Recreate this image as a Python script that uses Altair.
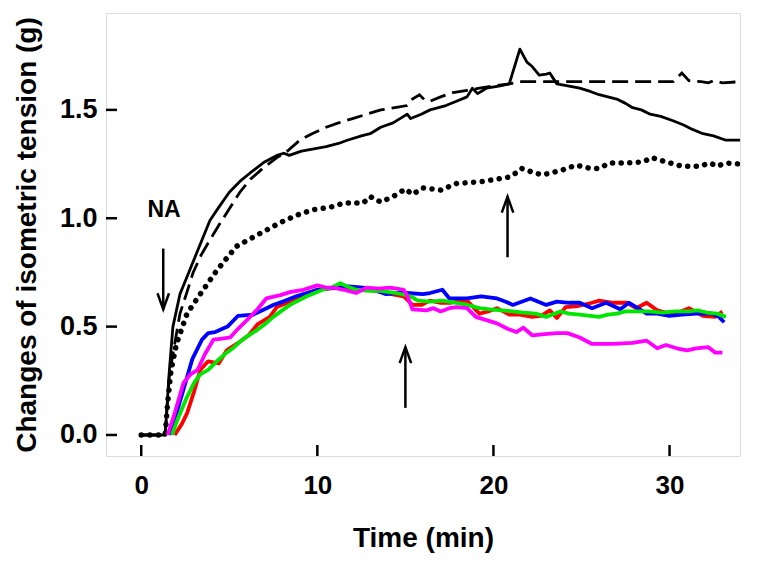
import altair as alt
import pandas as pd

# ---------------- data ----------------
solid_t = [0, 1.36, 1.6, 1.8, 2.2, 2.7, 3.2, 3.9, 4.4, 5.0, 5.6, 6.2, 7.0, 7.7, 8.1, 8.4, 9.1, 9.8, 10.5,
           11.2, 11.7, 12.5, 13.0, 13.6, 14.3, 14.9, 15.1, 15.3, 15.9, 16.4, 17.3, 17.9, 18.5, 18.8, 19.1,
           19.6, 20.3, 20.9, 21.5, 21.9, 22.2, 22.6, 23.0, 23.2, 23.6, 24.3, 24.9, 25.5, 26.0, 26.5, 27.0,
           27.5, 27.9, 28.4, 28.9, 29.5, 30.2, 30.8, 31.3, 31.9, 32.5, 33.2, 34.0]
solid_v = [0, 0, 0.30, 0.50, 0.65, 0.75, 0.85, 0.99, 1.05, 1.12, 1.17, 1.21, 1.26, 1.29, 1.30, 1.29, 1.31, 1.32, 1.33,
           1.345, 1.36, 1.38, 1.39, 1.42, 1.44, 1.47, 1.48, 1.46, 1.48, 1.50, 1.52, 1.54, 1.56, 1.60, 1.575,
           1.60, 1.61, 1.62, 1.78, 1.72, 1.70, 1.66, 1.665, 1.67, 1.62, 1.61, 1.60, 1.585, 1.57, 1.56, 1.55,
           1.53, 1.51, 1.50, 1.48, 1.47, 1.45, 1.43, 1.41, 1.39, 1.38, 1.36, 1.36]

dashed_t = [0, 1.36, 1.6, 1.9, 2.2, 2.6, 2.95, 3.4, 3.9, 4.5, 5.05, 5.6, 6.2, 6.9, 7.7, 8.3, 9.0, 9.7, 10.5,
            11.2, 12.0, 12.8, 13.6, 14.4, 15.1, 15.4, 15.8, 16.1, 16.4, 17.0, 17.7, 18.5, 19.2, 20.0, 20.9,
            21.5, 22.5, 24.0, 26.0, 28.0, 30.2, 30.7, 31.1, 31.8, 32.2, 32.5, 33.0, 34.0]
dashed_v = [0, 0, 0.28, 0.42, 0.56, 0.66, 0.75, 0.83, 0.90, 0.98, 1.05, 1.12, 1.18, 1.23, 1.28, 1.31, 1.36, 1.39, 1.42,
            1.44, 1.46, 1.48, 1.50, 1.51, 1.52, 1.55, 1.57, 1.545, 1.54, 1.56, 1.58, 1.59, 1.60, 1.61, 1.62,
            1.63, 1.63, 1.63, 1.63, 1.63, 1.63, 1.67, 1.635, 1.63, 1.625, 1.635, 1.625, 1.63]

dotted_t = [0, 1.36, 1.5, 1.7, 2.0, 2.6, 3.35, 4.3, 5.4, 6.75, 7.9, 8.85, 9.8, 10.7, 11.5, 12.6, 13.0, 13.6,
            14.3, 15.0, 15.4, 16.0, 17.0, 17.9, 19.4, 20.9, 21.3, 21.6, 22.3, 22.8, 23.8, 24.7, 25.5, 26.0,
            26.6, 27.6, 28.5, 29.0, 29.8, 30.7, 31.7, 32.3, 32.7, 33.2, 34.0]
dotted_v = [0, 0, 0.15, 0.30, 0.42, 0.56, 0.65, 0.76, 0.87, 0.93, 0.98, 1.015, 1.04, 1.05, 1.07, 1.07, 1.10, 1.075,
            1.10, 1.135, 1.11, 1.14, 1.13, 1.16, 1.17, 1.19, 1.21, 1.23, 1.21, 1.20, 1.22, 1.245, 1.23, 1.23,
            1.255, 1.255, 1.26, 1.28, 1.26, 1.24, 1.24, 1.255, 1.24, 1.255, 1.25]

red_t = [1.9, 2.3, 2.6, 3.0, 3.35, 3.8, 4.4, 4.85, 5.6, 6.1, 6.6, 7.3, 7.7, 8.3, 8.85, 9.4, 10.0, 10.6, 11.3,
         12.0, 12.6, 13.3, 13.9, 14.9, 15.4, 15.9, 16.4, 17.0, 17.5, 18.0, 18.5, 19.2, 19.7, 20.2, 20.9, 21.5,
         22.2, 22.7, 23.2, 23.6, 24.1, 24.8, 25.6, 26.0, 26.8, 27.6, 28.1, 28.7, 29.3, 30.0, 30.5, 31.1, 31.9,
         32.6, 33.0]
red_v = [0, 0.05, 0.10, 0.20, 0.30, 0.34, 0.33, 0.39, 0.43, 0.46, 0.51, 0.545, 0.59, 0.61, 0.63, 0.65, 0.67, 0.675, 0.68,
         0.675, 0.675, 0.665, 0.655, 0.64, 0.60, 0.60, 0.62, 0.61, 0.61, 0.615, 0.62, 0.56, 0.57, 0.585, 0.555, 0.555,
         0.545, 0.55, 0.575, 0.54, 0.59, 0.595, 0.61, 0.62, 0.61, 0.61, 0.585, 0.61, 0.575, 0.56, 0.565, 0.585, 0.55,
         0.545, 0.57]

blue_t = [1.6, 2.0, 2.4, 2.9, 3.45, 3.8, 4.2, 4.9, 5.5, 6.35, 7.0, 7.5, 8.2, 8.8, 9.4, 10.0, 10.5, 11.1, 11.8,
          12.6, 13.2, 13.9, 14.5, 15.1, 16.0, 16.4, 17.1, 17.5, 18.5, 19.3, 20.2, 20.7, 21.1, 21.6, 22.1, 23.0,
          23.6, 24.3, 24.9, 25.6, 26.4, 27.2, 27.7, 28.2, 28.7, 29.3, 30.0, 30.7, 31.5, 32.4, 32.8, 33.1]
blue_v = [0, 0.10, 0.21, 0.35, 0.44, 0.47, 0.475, 0.50, 0.55, 0.555, 0.58, 0.60, 0.62, 0.64, 0.655, 0.67, 0.675, 0.68, 0.685,
          0.68, 0.67, 0.65, 0.655, 0.655, 0.65, 0.655, 0.67, 0.63, 0.63, 0.64, 0.63, 0.615, 0.60, 0.615, 0.63, 0.60,
          0.615, 0.61, 0.61, 0.585, 0.61, 0.58, 0.61, 0.585, 0.56, 0.56, 0.55, 0.555, 0.56, 0.56, 0.545, 0.52]

green_t = [1.75, 2.1, 2.6, 3.0, 3.35, 3.8, 4.3, 4.85, 5.2, 5.6, 6.1, 6.6, 7.0, 7.5, 8.0, 8.45, 9.4, 10.3, 10.8,
           11.3, 11.7, 12.2, 13.0, 13.6, 14.5, 15.3, 15.7, 16.4, 17.1, 17.9, 18.5, 19.2, 19.8, 20.5, 21.1, 21.7,
           22.4, 23.0, 23.8, 24.3, 24.9, 25.5, 26.0, 26.5, 27.0, 27.5, 28.1, 28.8, 29.6, 30.3, 31.1, 31.6, 32.1,
           32.7, 33.2]
green_v = [0, 0.08, 0.175, 0.24, 0.28, 0.30, 0.34, 0.38, 0.40, 0.43, 0.46, 0.485, 0.51, 0.545, 0.575, 0.60, 0.64, 0.67, 0.68,
           0.70, 0.685, 0.67, 0.665, 0.665, 0.655, 0.64, 0.62, 0.615, 0.62, 0.61, 0.60, 0.585, 0.58, 0.575, 0.57, 0.565,
           0.56, 0.545, 0.57, 0.56, 0.555, 0.55, 0.545, 0.555, 0.56, 0.57, 0.57, 0.57, 0.565, 0.57, 0.57, 0.575, 0.565,
           0.56, 0.545]

magenta_t = [1.5, 1.9, 2.4, 2.8, 3.2, 3.6, 4.1, 4.6, 5.05, 5.5, 6.0, 6.6, 7.1, 7.9, 8.5, 9.2, 10.0, 10.5, 10.9,
             11.5, 12.2, 12.8, 13.5, 14.1, 14.5, 14.9, 15.1, 15.4, 16.2, 16.6, 17.0, 17.5, 17.9, 18.5, 19.0, 19.6,
             20.2, 20.8, 21.3, 21.7, 22.2, 22.9, 23.6, 24.2, 24.9, 25.6, 26.2, 26.8, 27.9, 28.7, 29.3, 29.8, 30.4,
             31.0, 31.5, 32.2, 32.6, 33.0]
magenta_v = [0, 0.10, 0.24, 0.28, 0.30, 0.37, 0.44, 0.445, 0.45, 0.49, 0.53, 0.58, 0.63, 0.645, 0.66, 0.67, 0.69, 0.68, 0.68,
             0.67, 0.655, 0.68, 0.675, 0.68, 0.675, 0.67, 0.645, 0.58, 0.575, 0.585, 0.57, 0.585, 0.59, 0.585, 0.545, 0.53,
             0.515, 0.49, 0.475, 0.495, 0.46, 0.465, 0.47, 0.47, 0.45, 0.42, 0.42, 0.42, 0.425, 0.435, 0.40, 0.415, 0.40,
             0.39, 0.40, 0.405, 0.38, 0.38]

x_ticks = [0, 10, 20, 30]
y_ticks = [0.0, 0.5, 1.0, 1.5]

# arrows: position, tail value, tip value
arrow_down_t = [1.25]
arrow_down_tail = [0.86]
arrow_down_tip = [0.58]
arrow_up_t = [15.0, 20.8]
arrow_up_tail = [0.125, 0.82]
arrow_up_tip = [0.405, 1.10]

label_text = ["NA"]
label_t = [1.3]
label_v = [1.04]

# ---------------- chart ----------------
W, H = 634, 443
FONT = "Liberation Sans"

xscale = alt.Scale(domain=[-2, 34], nice=False, zero=False)
yscale = alt.Scale(domain=[-0.097, 1.947], nice=False, zero=False)

xaxis = alt.Axis(values=x_ticks, title="Time (min)", ticks=False, tickSize=0, domain=False, grid=False,
                 labelFontSize=26, labelFontWeight="bold", labelPadding=16, labelColor="black",
                 titleFontSize=28, titleFontWeight="bold", titlePadding=26, titleColor="black",
                 labelFont=FONT, titleFont=FONT)
yaxis = alt.Axis(values=y_ticks, format=".1f", title="Changes of isometric tension (g)", ticks=False,
                 tickSize=0, domain=False, grid=False,
                 labelFontSize=27, labelFontWeight="bold", labelPadding=9, labelColor="black",
                 titleFontSize=28, titleFontWeight="bold", titlePadding=18, titleColor="black",
                 labelFont=FONT, titleFont=FONT)


def line(t, v, **style):
    df = pd.DataFrame({"t": t, "v": v})
    return alt.Chart(df).mark_line(clip=True, **style).encode(
        x=alt.X("t:Q", scale=xscale, axis=xaxis),
        y=alt.Y("v:Q", scale=yscale, axis=yaxis),
        order=alt.Order("t:Q"),
    )


black_solid = line(solid_t, solid_v, color="black", strokeWidth=2.8, strokeJoin="round")
black_dashed = line(dashed_t, dashed_v, color="black", strokeWidth=2.8, strokeDash=[16, 7])
black_dotted = line(dotted_t, dotted_v, color="black", strokeWidth=5.5, strokeDash=[0.1, 8.5], strokeCap="round")
red = line(red_t, red_v, color="#ff0000", strokeWidth=3.8, strokeJoin="round")
blue = line(blue_t, blue_v, color="#0000ff", strokeWidth=3.8, strokeJoin="round")
green = line(green_t, green_v, color="#00e600", strokeWidth=3.8, strokeJoin="round")
magenta = line(magenta_t, magenta_v, color="#ff00ff", strokeWidth=3.8, strokeJoin="round")

xt = alt.Chart(pd.DataFrame({"t": x_ticks})).mark_rule(color="black", strokeWidth=2.5).encode(
    x=alt.X("t:Q", scale=xscale, axis=xaxis), y=alt.value(H), y2=alt.value(H - 11))
yt = alt.Chart(pd.DataFrame({"v": y_ticks})).mark_rule(color="black", strokeWidth=2.5).encode(
    y=alt.Y("v:Q", scale=yscale, axis=yaxis), x=alt.value(0), x2=alt.value(11))

down_df = pd.DataFrame({"t": arrow_down_t, "tail": arrow_down_tail, "tip": arrow_down_tip})
up_df = pd.DataFrame({"t": arrow_up_t, "tail": arrow_up_tail, "tip": arrow_up_tip})

shaft_down = alt.Chart(down_df).mark_rule(color="black", strokeWidth=2.5).encode(
    x=alt.X("t:Q", scale=xscale), y=alt.Y("tail:Q", scale=yscale), y2="tip:Q")
shaft_up = alt.Chart(up_df).mark_rule(color="black", strokeWidth=2.5).encode(
    x=alt.X("t:Q", scale=xscale), y=alt.Y("tail:Q", scale=yscale), y2="tip:Q")
head_down = alt.Chart(down_df).mark_point(
    shape="M-0.36,-1L0,0L0.36,-1", filled=False, stroke="black", strokeWidth=2.5, size=1024, opacity=1
).encode(x=alt.X("t:Q", scale=xscale), y=alt.Y("tip:Q", scale=yscale))
head_up = alt.Chart(up_df).mark_point(
    shape="M-0.36,1L0,0L0.36,1", filled=False, stroke="black", strokeWidth=2.5, size=1024, opacity=1
).encode(x=alt.X("t:Q", scale=xscale), y=alt.Y("tip:Q", scale=yscale))

na_text = alt.Chart(pd.DataFrame({"t": label_t, "v": label_v, "txt": label_text})).mark_text(
    font=FONT, fontSize=23, fontWeight="bold", color="black", align="center", baseline="middle"
).encode(x=alt.X("t:Q", scale=xscale), y=alt.Y("v:Q", scale=yscale), text="txt:N")

chart = alt.layer(
    black_solid, black_dashed, black_dotted, red, blue, green, magenta,
    xt, yt, shaft_down, shaft_up, head_down, head_up, na_text
).properties(width=W, height=H).configure_view(
    stroke="black", strokeWidth=2.5
).configure(background="white")

chart.save("out.html", embed_options={"renderer": "svg", "actions": False})
